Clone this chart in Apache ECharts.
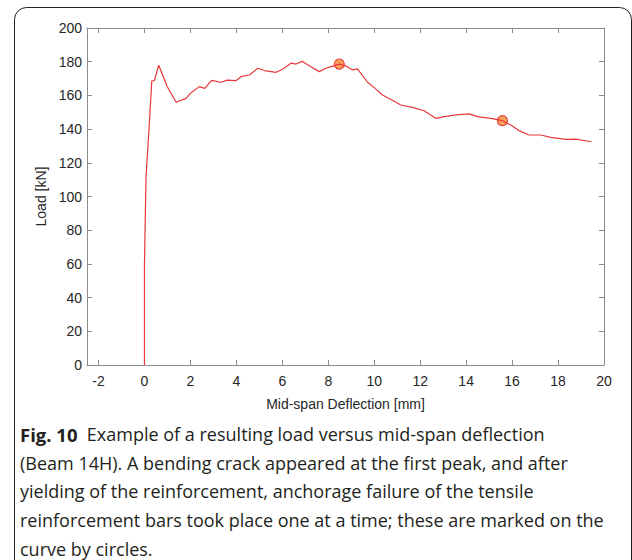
<!DOCTYPE html>
<html>
<head>
<meta charset="utf-8">
<script src="https://cdn.jsdelivr.net/npm/echarts@6/dist/echarts.min.js"></script>
<style>
  html, body { margin: 0; padding: 0; background: #fff; }
  #chart { width: 632px; height: 560px; }
</style>
</head>
<body>
<div id="chart"></div>
<script>
// Curve: mid-span deflection [mm] vs load [kN]
const deflection = [0, 0, 0.07, 0.22, 0.32, 0.43, 0.62, 1.0, 1.38, 1.81, 2.03, 2.39, 2.63, 2.92, 3.33, 3.6, 3.99, 4.2, 4.57, 4.93, 5.29, 5.73, 6.01, 6.38, 6.6, 6.86, 7.17, 7.61, 7.9, 8.19, 8.48, 8.77, 9.06, 9.27, 9.71, 10.0, 10.36, 10.73, 11.16, 11.67, 12.17, 12.68, 13.04, 13.55, 14.13, 14.49, 15.14, 15.58, 15.94, 16.3, 16.74, 17.25, 17.68, 18.33, 18.77, 19.45];
const load = [0, 60, 112, 145, 168.7, 168.7, 177.9, 165, 155.9, 158.2, 161.6, 165.2, 164.2, 168.9, 167.8, 169.1, 168.8, 171.1, 172.1, 176.1, 174.5, 173.7, 175.5, 179.1, 178.6, 180.2, 177.6, 174.1, 176.1, 177.4, 178.6, 177.4, 175.1, 175.7, 167.8, 164.6, 160.2, 157.6, 154.3, 152.9, 150.9, 146.4, 147.4, 148.4, 149.0, 147.4, 146.2, 145.0, 142.4, 139.1, 136.5, 136.5, 135.1, 133.9, 134.1, 132.5];
// Anchorage failures (circles)
const markerDeflection = [8.48, 15.58];
const markerLoad = [178.6, 145.0];
// Tick labels
const xTicks = [-2, 0, 2, 4, 6, 8, 10, 12, 14, 16, 18, 20];
const yTicks = [0, 20, 40, 60, 80, 100, 120, 140, 160, 180, 200];
const captionLines = [
  "Example of a resulting load versus mid-span deflection",
  "(Beam 14H). A bending crack appeared at the first peak, and after",
  "yielding of the reinforcement, anchorage failure of the tensile",
  "reinforcement bars took place one at a time; these are marked on the",
  "curve by circles."
];
const captionLabel = "Fig. 10";

const curve = deflection.map((d, i) => [d, load[i]]);
const markers = markerDeflection.map((d, i) => [d, markerLoad[i]]);

const axisColor = '#8c8c8c';
const labelFont = { fontFamily: "'Liberation Sans', Arial, Helvetica, sans-serif", fontSize: 14, color: '#262626' };
const capFont = "'Open Sans', 'Noto Sans', sans-serif";
const capSize = 18;

const chart = echarts.init(document.getElementById('chart'), null, { renderer: 'svg' });

const captionGraphics = captionLines.map((line, i) => ({
  type: 'text',
  x: 20,
  y: 434 + i * 28.7,
  style: i === 0 ? {
    text: '{b|' + captionLabel + '}  ' + line,
    rich: { b: { fontWeight: 'bold', fontFamily: capFont, fontSize: capSize + 0.5, fill: '#231f20' } },
    fontFamily: capFont, fontSize: capSize, fill: '#231f20', verticalAlign: 'middle', align: 'left'
  } : {
    text: line, fontFamily: capFont, fontSize: capSize, fill: '#231f20', verticalAlign: 'middle', align: 'left'
  }
}));

chart.setOption({
  animation: false,
  backgroundColor: '#fff',
  grid: { left: 87, right: 28, top: 28, bottom: 195, containLabel: false },
  xAxis: [{
    type: 'value', min: -2.5, max: 20, position: 'bottom',
    name: 'Mid-span Deflection [mm]', nameLocation: 'middle', nameGap: 32,
    nameTextStyle: labelFont,
    axisLine: { show: true, onZero: false, lineStyle: { color: axisColor, width: 1 } },
    axisTick: { show: true, inside: true, length: 5, customValues: xTicks, lineStyle: { color: axisColor } },
    axisLabel: { customValues: xTicks, margin: 9, ...labelFont },
    splitLine: { show: false }
  }, {
    type: 'value', min: -2.5, max: 20, position: 'top',
    axisLine: { show: true, onZero: false, lineStyle: { color: axisColor, width: 1 } },
    axisTick: { show: true, inside: true, length: 5, customValues: xTicks, lineStyle: { color: axisColor } },
    axisLabel: { show: false },
    splitLine: { show: false }
  }],
  yAxis: [{
    type: 'value', min: 0, max: 200, interval: 20, position: 'left',
    name: 'Load [kN]', nameLocation: 'middle', nameGap: 36, nameRotate: 90,
    nameTextStyle: labelFont,
    axisLine: { show: true, onZero: false, lineStyle: { color: axisColor, width: 1 } },
    axisTick: { show: true, inside: true, length: 5, lineStyle: { color: axisColor } },
    axisLabel: { margin: 5, formatter: v => yTicks.includes(v) ? String(v) : '', ...labelFont },
    splitLine: { show: false }
  }, {
    type: 'value', min: 0, max: 200, interval: 20, position: 'right',
    axisLine: { show: true, onZero: false, lineStyle: { color: axisColor, width: 1 } },
    axisTick: { show: true, inside: true, length: 5, lineStyle: { color: axisColor } },
    axisLabel: { show: false },
    splitLine: { show: false }
  }],
  series: [{
    type: 'line', data: curve, xAxisIndex: 0, yAxisIndex: 0,
    showSymbol: false, smooth: false,
    lineStyle: { color: '#e8383d', width: 1.2 }
  }, {
    type: 'scatter', data: markers, xAxisIndex: 0, yAxisIndex: 0,
    symbol: 'circle', symbolSize: 10,
    itemStyle: { color: '#f8a35a', borderColor: '#e8473a', borderWidth: 1.2, opacity: 1 }
  }],
  graphic: [{
    type: 'rect', left: 12, top: 5, silent: true,
    shape: { width: 617, height: 565, r: 12 },
    style: { fill: 'none', stroke: '#231f20', lineWidth: 1 }
  }, ...captionGraphics]
});
</script>
</body>
</html>
